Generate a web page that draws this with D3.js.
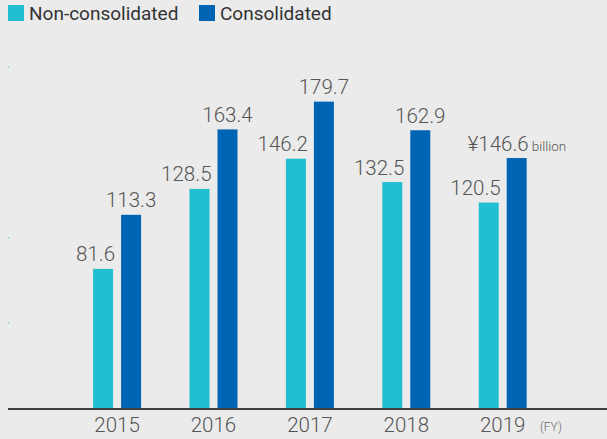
<!DOCTYPE html>
<html>
<head>
<meta charset="utf-8">
<script src="https://cdn.jsdelivr.net/npm/d3@7/dist/d3.min.js"></script>
<style>
  body { margin: 0; background: #ebebeb; }
  svg { display: block; font-family: Roboto, "Liberation Sans", Arial, sans-serif; font-weight: 300; }
</style>
</head>
<body>
<svg width="607" height="439"></svg>
<script>
// chart data
var years = ["2015", "2016", "2017", "2018", "2019"];
var series = ["Non-consolidated", "Consolidated"];
var nonConsolidated = [81.6, 128.5, 146.2, 132.5, 120.5];
var consolidated = [113.3, 163.4, 179.7, 162.9, 146.6];
var gridDots = [50, 100, 200];
var color = ["#21bfcf", "#0064b4"];

var svg = d3.select("svg");

var y = d3.scaleLinear().domain([0, 200]).range([408, 67]);
var x0 = d3.scaleBand().domain(years).range([68.9, 550.9]);
var x1 = d3.scaleBand().domain(series).range([x0.bandwidth() / 2 - 24, x0.bandwidth() / 2 + 24])
    .paddingInner(2 - 48 / 28);

// little tick dots on the left
svg.append("g").selectAll("rect")
    .data(gridDots)
    .enter().append("rect")
      .attr("x", 8).attr("y", function(d){return y(d) - 0.5;})
      .attr("width", 1.2).attr("height", 1.2)
      .attr("fill", "#5ec8d6");

var rows = years.map(function(yr, i){
  return {year: yr, values: [nonConsolidated[i], consolidated[i]]};
});

function cells(d) {
  return d.values.map(function(v, k){return {key: series[k], k: k, v: v, year: d.year};});
}

var groups = svg.append("g").selectAll("g")
    .data(rows)
    .enter().append("g")
      .attr("transform", function(d){return "translate(" + x0(d.year) + ",0)";});

groups.selectAll("rect")
    .data(cells)
    .enter().append("rect")
      .attr("x", function(d){return x1(d.key);})
      .attr("width", x1.bandwidth())
      .attr("y", function(d){return y(d.v);})
      .attr("height", function(d){return y(0) - y(d.v);})
      .attr("fill", function(d){return color[d.k];});

// value labels: non-consolidated ones are pushed left, ending just before the blue bar
groups.selectAll("text")
    .data(cells)
    .enter().append("text")
      .attr("x", function(d){
        return d.k == 0 ? x1(series[1]) - 6 : x1(d.key) + x1.bandwidth() / 2;
      })
      .attr("y", function(d){return y(d.v) - 7.5;})
      .attr("text-anchor", function(d){return d.k == 0 ? "end" : "middle";})
      .attr("font-size", 20.5)
      .attr("fill", "#555")
      .each(function(d){
        var t = d3.select(this);
        if (d.year == "2019" && d.k == 1) {
          t.attr("text-anchor", "start").attr("x", x1(d.key) - 39);
          t.append("tspan").text("¥" + d.v.toFixed(1));
          t.append("tspan").attr("font-size", 13.5).attr("dx", 3).text("billion");
        } else {
          t.text(d.v.toFixed(1));
        }
      });

// baseline
svg.append("line")
    .attr("x1", 8).attr("x2", 607)
    .attr("y1", y(0) + 1).attr("y2", y(0) + 1)
    .attr("stroke", "#3a3f44").attr("stroke-width", 2);

// year labels
svg.append("g").selectAll("text")
    .data(years)
    .enter().append("text")
      .attr("x", function(d){return x0(d) + x0.bandwidth() / 2;})
      .attr("y", 432)
      .attr("text-anchor", "middle")
      .attr("font-size", 20.5)
      .attr("fill", "#555")
      .text(function(d){return d;});

svg.append("text")
    .attr("x", 540).attr("y", 431)
    .attr("font-size", 12).attr("fill", "#666")
    .text("(FY)");

// legend
var legendX = [8, 199];
var legend = svg.append("g").selectAll("g")
    .data(series)
    .enter().append("g")
      .attr("transform", function(d, i){return "translate(" + legendX[i] + ",5)";});
legend.append("rect")
    .attr("width", 16).attr("height", 16)
    .attr("fill", function(d, i){return color[i];});
legend.append("text")
    .attr("x", 21).attr("y", 15)
    .attr("font-size", 19)
    .attr("font-weight", 400)
    .attr("fill", "#333")
    .text(function(d){return d;});
</script>
</body>
</html>
